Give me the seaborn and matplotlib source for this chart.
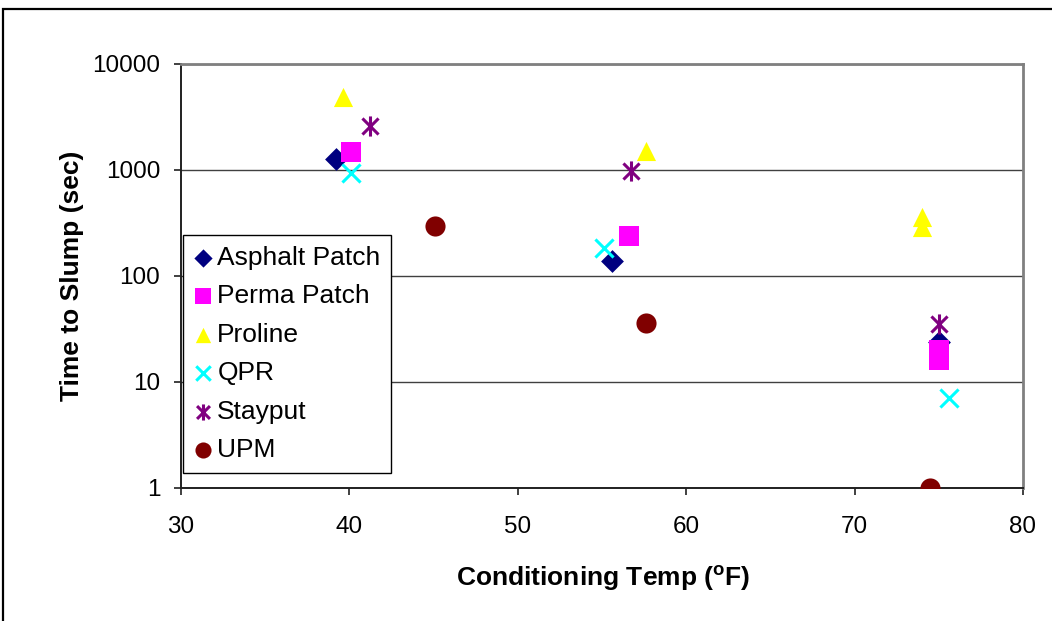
import matplotlib
matplotlib.use("Agg")
import matplotlib.pyplot as plt
from matplotlib.path import Path
from matplotlib.patches import Rectangle
from matplotlib.ticker import FixedLocator, FixedFormatter, NullLocator
import seaborn as sns

# Conditioning temperature (°F) and time to slump (sec) for each patching material
asphalt_temp = [39.2, 55.6, 75.0]
asphalt_time = [1270, 138, 24]

perma_temp = [40.1, 56.6, 75.0, 75.0]
perma_time = [1480, 238, 20, 16]

proline_temp = [39.6, 57.6, 74.0, 74.0]
proline_time = [4900, 1510, 360, 290]

qpr_temp = [40.1, 55.1, 75.6]
qpr_time = [935, 183, 7]

stayput_temp = [41.2, 56.7, 75.0]
stayput_time = [2600, 980, 35]

upm_temp = [45.1, 57.6, 74.5]
upm_time = [297, 36, 1]

series_names = ["Asphalt Patch", "Perma Patch", "Proline", "QPR", "Stayput", "UPM"]

y_ticks = [1, 10, 100, 1000, 10000]
y_tick_labels = ["1", "10", "100", "1000", "10000"]
x_ticks = [30, 40, 50, 60, 70, 80]

# Six-armed star: an X with a vertical bar through it
star = Path(
    [(0, -1), (0, 1), (-0.8, -0.8), (0.8, 0.8), (-0.8, 0.8), (0.8, -0.8)],
    [Path.MOVETO, Path.LINETO, Path.MOVETO, Path.LINETO, Path.MOVETO, Path.LINETO],
)

styles = [
    dict(marker="D", color="#000080", s=135, linewidth=0),
    dict(marker="s", color="#FF00FF", s=200, linewidth=0),
    dict(marker="^", color="#FFFF00", s=190, linewidth=0),
    dict(marker="x", color="#00FFFF", s=170, linewidth=2.2),
    dict(marker=star, color="#800080", s=210, linewidth=2.2),
    dict(marker="o", color="#800000", s=210, linewidth=0),
]

data = [
    (asphalt_temp, asphalt_time),
    (perma_temp, perma_time),
    (proline_temp, proline_time),
    (qpr_temp, qpr_time),
    (stayput_temp, stayput_time),
    (upm_temp, upm_time),
]

sns.set_theme(style="white")
plt.rcParams["font.family"] = ["Liberation Sans", "DejaVu Sans"]
plt.rcParams["text.color"] = "black"
plt.rcParams["axes.labelcolor"] = "black"

fig = plt.figure(figsize=(10.52, 6.21), dpi=100)
ax = fig.add_axes([181 / 1052, 1 - 488 / 621, 842 / 1052, 424 / 621])

for name, (tx, ty), st in zip(series_names, data, styles):
    sns.scatterplot(x=tx, y=ty, ax=ax, label=name, edgecolor=st["color"],
                    zorder=3, **st)

ax.set_yscale("log")
ax.set_xlim(30, 80)
ax.set_ylim(1, 10000)
ax.yaxis.set_major_locator(FixedLocator(y_ticks))
ax.yaxis.set_major_formatter(FixedFormatter(y_tick_labels))
ax.yaxis.set_minor_locator(NullLocator())
ax.xaxis.set_major_locator(FixedLocator(x_ticks))

ax.grid(axis="y", color="#404040", linewidth=1.0, zorder=1)
ax.set_axisbelow(True)

for side in ("left", "bottom"):
    ax.spines[side].set_color("#202020")
    ax.spines[side].set_linewidth(1.4)
for side in ("top", "right"):
    ax.spines[side].set_color("#808080")
    ax.spines[side].set_linewidth(2.0)

ax.tick_params(axis="both", which="major", direction="out", length=5,
               width=1.2, color="#202020", labelsize=17.5, labelcolor="black",
               left=True, bottom=True)
ax.tick_params(axis="y", pad=10)
ax.tick_params(axis="x", pad=15)

ax.set_xlabel("Conditioning Temp ($\\mathregular{^o}$F)", fontsize=19,
              fontweight="bold", color="black")
ax.set_ylabel("Time to Slump (sec)", fontsize=19, fontweight="bold",
              color="black")
ax.xaxis.set_label_coords(0.501, -0.18)
ax.yaxis.set_label_coords(-0.115, 0.5)

leg = ax.legend(loc="upper left", bbox_to_anchor=(2 / 842, (488 - 235) / 424),
                frameon=True, fancybox=False, fontsize=19, borderpad=0.4,
                labelspacing=0.55, handletextpad=0.15, handlelength=0.75,
                borderaxespad=0, markerscale=0.8)
leg.get_frame().set_edgecolor("black")
leg.get_frame().set_linewidth(1.0)
leg.get_frame().set_facecolor("white")
leg.get_frame().set_alpha(1)
for t in leg.get_texts():
    t.set_color("black")

# Outer chart frame
fig.add_artist(Rectangle((3 / 1052, -0.1), 1.2, 1 - 9 / 621 + 0.1,
                         transform=fig.transFigure, fill=False,
                         edgecolor="black", linewidth=1.6))

fig.savefig("out.png", dpi=100, facecolor="white")
